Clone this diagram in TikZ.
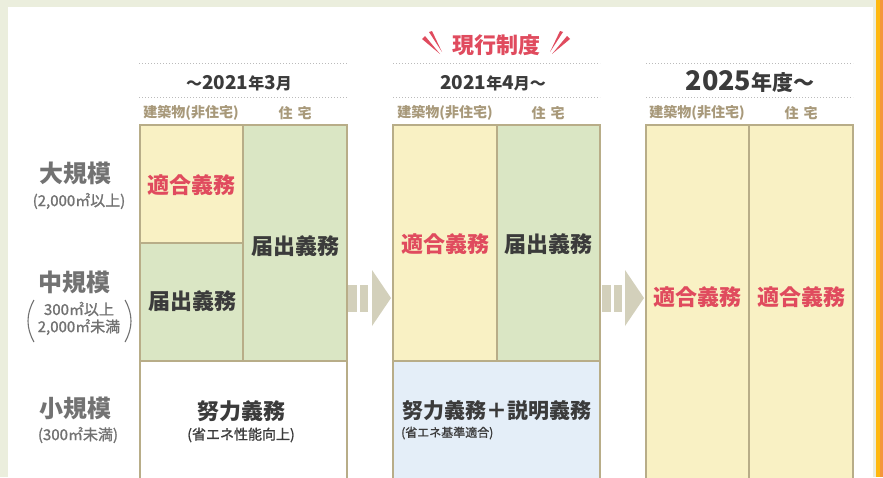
\documentclass[tikz,border=0pt]{standalone}
\usepackage{fontspec}
\setmainfont{Noto Sans CJK JP}
\newfontfamily\medfont{Noto Sans CJK JP}[FakeBold=1.2]
\definecolor{bgc}{HTML}{EBEEDD}
\definecolor{yel}{HTML}{F9F1C4}
\definecolor{grn}{HTML}{DAE6C4}
\definecolor{blu}{HTML}{E4EEF8}
\definecolor{brd}{HTML}{B8AD88}
\definecolor{redt}{HTML}{E04B5E}
\definecolor{darkt}{HTML}{3B3B3B}
\definecolor{grayt}{HTML}{727272}
\definecolor{tant}{HTML}{A8997A}
\definecolor{arrc}{HTML}{D3D0BB}
\definecolor{dotc}{HTML}{BBBBBB}
\definecolor{stripeY}{HTML}{FFB80F}
\definecolor{stripeO}{HTML}{F4963B}
\newcommand\fsz[1]{\fontsize{#1}{#1}\selectfont}
\tikzset{
  boxd/.style={draw=brd, line width=1.3pt},
  dotl/.style={draw=dotc, line width=1pt, dash pattern=on 1pt off 2pt},
  duty/.style={inner sep=0pt, font=\fsz{22}\bfseries, text=darkt},
  dutyred/.style={duty, text=redt},
  scale lbl/.style={inner sep=0pt, font=\fsz{24}\bfseries, text=grayt},
  scale sub/.style={inner sep=0pt, font=\medfont\fsz{15}, text=grayt},
  hdr/.style={inner sep=0pt, font=\fsz{14}\bfseries, text=tant},
  datelbl/.style={inner sep=0pt, anchor=base, font=\bfseries, text=darkt},
  note/.style={inner sep=0pt, font=\medfont\fsz{14}, text=darkt},
  arrowfill/.style={fill=arrc},
  burst/.style={fill=redt}
}
\begin{document}
\begin{tikzpicture}[x=1pt,y=-1pt]
\useasboundingbox (0,0) rectangle (883,477);
% background panel and stripe
\fill[bgc] (0,0) rectangle (883,477);
\fill[white] (8,7) rectangle (873,477);
\fill[stripeY] (876,0) rectangle (880,477);
\fill[stripeO] (880,0) rectangle (883,477);

% column 1 boxes
\draw[boxd, fill=yel] (140,125) rectangle (243,243);
\draw[boxd, fill=grn] (140,243) rectangle (243,361);
\draw[boxd, fill=grn] (243,125) rectangle (347,361);
\draw[boxd, fill=white] (140,361) rectangle (347,482);
% column 2 boxes
\draw[boxd, fill=yel] (393,125) rectangle (497,361);
\draw[boxd, fill=grn] (497,125) rectangle (600,361);
\draw[boxd, fill=blu] (393,361) rectangle (600,482);
% column 3 boxes
\draw[boxd, fill=yel] (646,125) rectangle (749,482);
\draw[boxd, fill=yel] (749,125) rectangle (853,482);

% arrows
\fill[arrowfill] (348,285) rectangle (357,312);
\fill[arrowfill] (360,285) rectangle (368,312);
\fill[arrowfill] (372,270) -- (391,298) -- (372,326) -- cycle;
\fill[arrowfill] (602,285) rectangle (611,312);
\fill[arrowfill] (614,285) rectangle (622,312);
\fill[arrowfill] (625,270) -- (644,298) -- (625,326) -- cycle;

% header dotted lines
\foreach \a/\b in {139/347, 393/600, 646/853}{
  \draw[dotl] (\a,63) -- (\b,63);
  \draw[dotl] (\a,97) -- (\b,97);
}

% current system label
\node[inner sep=0pt, font=\fsz{22}\bfseries, text=redt] (cur) at (496,45) {現行制度};
\fill[burst] (422,39) -- (425,36) -- (440,54) -- cycle;
\fill[burst] (429,32) -- (432,31) -- (442,52) -- cycle;
\fill[burst] (570,39) -- (567,36) -- (552,54) -- cycle;
\fill[burst] (563,32) -- (560,31) -- (550,52) -- cycle;

% dates
\node[datelbl] (d1) at (239,89) {\fsz{16}～\fsz{19}2021\fsz{16}年\fsz{19}3\fsz{16}月};
\node[datelbl] (d2) at (493,89) {\fsz{19}2021\fsz{16}年\fsz{19}4\fsz{16}月～};
\node[datelbl] (d3) at (750,90) {\fsz{27}2025\fsz{21}年度～};

% column headers
\foreach \n/\x in {a/191, b/445, c/697}{
  \node[hdr] (nh\n) at (\x,113) {建築物(非住宅)};
}
\foreach \n/\x in {a/295, b/548, c/801}{
  \node[hdr] (rh\n) at (\x,113) {住\hspace{5pt}宅};
}

% scale labels
\node[scale lbl] (large) at (75,173) {大規模};
\node[scale sub] (larges) at (79,201) {(2,000㎡以上)};
\node[scale lbl] (mid) at (74,282) {中規模};
\node[scale sub] (mids1) at (79,309) {300㎡以上};
\node[scale sub] (mids2) at (79,327) {2,000㎡未満};
\draw[grayt, line width=1.1pt] (34,300) .. controls (26,314) and (26,328) .. (34,342);
\draw[grayt, line width=1.1pt] (125,300) .. controls (133,314) and (133,328) .. (125,342);
\node[scale lbl] (small) at (75,408) {小規模};
\node[scale sub] (smalls) at (78,435) {(300㎡未満)};

% duties column 1
\node[dutyred] (c1a) at (191,185) {適合義務};
\node[duty] (c1b) at (295,246) {届出義務};
\node[duty] (c1c) at (192,301) {届出義務};
\node[duty] (c1d) at (241,411) {努力義務};
\node[note] (c1e) at (241,435) {(省エネ性能向上)};
% duties column 2
\node[dutyred] (c2a) at (445,244) {適合義務};
\node[duty] (c2b) at (548,244) {届出義務};
\node[duty, font=\fsz{21}\bfseries] (c2c) at (497,411) {努力義務＋説明義務};
\node[note, font=\medfont\fsz{12}, anchor=west] (c2d) at (401,433) {(省エネ基準適合)};
% duties column 3
\node[dutyred] (c3a) at (697,297) {適合義務};
\node[dutyred] (c3b) at (801,297) {適合義務};
\end{tikzpicture}
\end{document}
